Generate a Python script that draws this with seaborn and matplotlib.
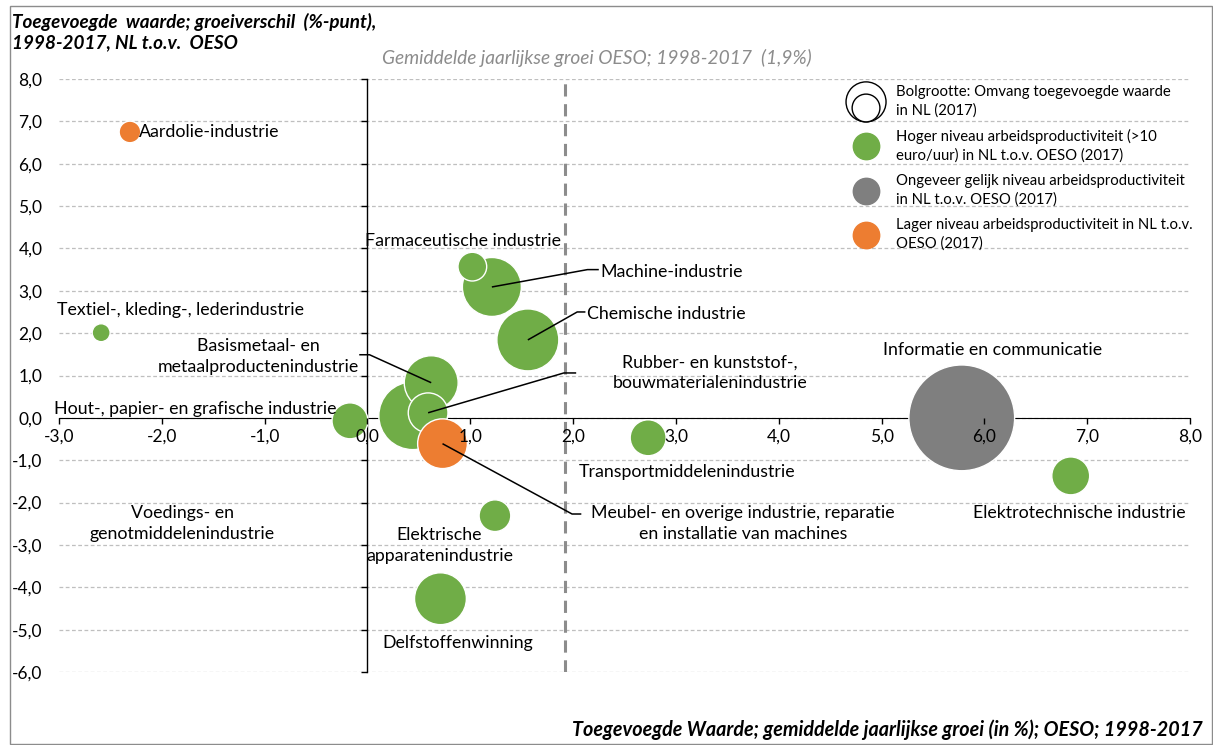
import matplotlib
matplotlib.use('Agg')
import matplotlib.pyplot as plt
import seaborn as sns
import pandas as pd
from matplotlib.lines import Line2D
from matplotlib.patches import Circle, Patch, Rectangle
from matplotlib.legend_handler import HandlerBase

# data
sectors = ['Aardolie-industrie', 'Textiel-, kleding-, lederindustrie',
           'Hout-, papier- en grafische industrie', 'Voedings- en genotmiddelenindustrie',
           'Basismetaal- en metaalproductenindustrie', 'Rubber- en kunststof-, bouwmaterialenindustrie',
           'Meubel- en overige industrie', 'Machine-industrie', 'Farmaceutische industrie',
           'Chemische industrie', 'Transportmiddelenindustrie', 'Informatie en communicatie',
           'Elektrotechnische industrie', 'Elektrische apparatenindustrie', 'Delfstoffenwinning']
groei_oeso = [-2.31, -2.59, -0.17, 0.44, 0.62, 0.59, 0.73, 1.21, 1.02, 1.56, 2.73, 5.78, 6.84, 1.24, 0.71]
groeiverschil = [6.75, 2.01, -0.07, 0.05, 0.83, 0.12, -0.61, 3.09, 3.57, 1.84, -0.47, 0.00, -1.37, -2.31, -4.27]
toegevoegde_waarde = [1.3, 0.9, 3.6, 12.8, 8.1, 4.4, 6.9, 9.7, 2.3, 10.7, 3.6, 31.2, 4.0, 2.8, 7.5]
niveau = ['Lager', 'Hoger', 'Hoger', 'Hoger', 'Hoger', 'Hoger', 'Lager', 'Hoger', 'Hoger',
          'Hoger', 'Hoger', 'Gelijk', 'Hoger', 'Hoger', 'Hoger']
gemiddelde_oeso = 1.92

x_ticks = [-3, -2, -1, 0, 1, 2, 3, 4, 5, 6, 7, 8]
y_ticks = [-6, -5, -4, -3, -2, -1, 0, 1, 2, 3, 4, 5, 6, 7, 8]

legend_labels = ['Bolgrootte: Omvang toegevoegde waarde\nin NL (2017)',
                 'Hoger niveau arbeidsproductiviteit (>10\neuro/uur) in NL t.o.v. OESO (2017)',
                 'Ongeveer gelijk niveau arbeidsproductiviteit\nin NL t.o.v. OESO (2017)',
                 'Lager niveau arbeidsproductiviteit in NL t.o.v.\nOESO (2017)']

df = pd.DataFrame({'x': groei_oeso, 'y': groeiverschil, 'tw': toegevoegde_waarde,
                   'niveau': niveau, 'sector': sectors})

colors = {'Hoger': '#70AD47', 'Gelijk': '#7F7F7F', 'Lager': '#ED7D31'}

# label layout (text, x, y, ha)
labels = [
    ('Aardolie-industrie', -2.22, 6.75, 'left'),
    ('Textiel-, kleding-, lederindustrie', -1.82, 2.55, 'center'),
    ('Hout-, papier- en grafische industrie', -1.67, 0.21, 'center'),
    ('Farmaceutische industrie', 0.93, 4.18, 'center'),
    ('Machine-industrie', 2.27, 3.45, 'left'),
    ('Chemische industrie', 2.14, 2.46, 'left'),
    ('Basismetaal- en\nmetaalproductenindustrie', -1.06, 1.45, 'center'),
    ('Rubber- en kunststof-,\nbouwmaterialenindustrie', 3.33, 1.07, 'center'),
    ('Informatie en communicatie', 6.08, 1.61, 'center'),
    ('Transportmiddelenindustrie', 3.11, -1.28, 'center'),
    ('Elektrotechnische industrie', 6.92, -2.24, 'center'),
    ('Meubel- en overige industrie, reparatie\nen installatie van machines', 3.65, -2.49, 'center'),
    ('Voedings- en\ngenotmiddelenindustrie', -1.80, -2.50, 'center'),
    ('Elektrische\napparatenindustrie', 0.70, -3.01, 'center'),
    ('Delfstoffenwinning', 0.88, -5.31, 'center'),
]
# leader lines: sector -> knee points towards the label
leaders = {
    'Machine-industrie': [(2.14, 3.50), (2.25, 3.50)],
    'Chemische industrie': [(2.04, 2.50), (2.12, 2.50)],
    'Rubber- en kunststof-, bouwmaterialenindustrie': [(1.91, 1.06), (2.03, 1.06)],
    'Basismetaal- en metaalproductenindustrie': [(0.02, 1.49), (-0.08, 1.49)],
    'Meubel- en overige industrie': [(1.99, -2.27), (2.08, -2.27)],
}

plt.rcParams['font.family'] = ['Lato', 'DejaVu Sans']

fig = plt.figure(figsize=(12.13, 7.45), dpi=100)
ax = fig.add_axes([59 / 1213, 1 - 672 / 745, (1190 - 59) / 1213, (672 - 79) / 745])

# horizontal gridlines
for yv in y_ticks:
    ax.axhline(yv, color='#BFBFBF', lw=0.9, ls=(0, (3, 2)), zorder=0)

ax.axvline(gemiddelde_oeso, color='#8C8C8C', lw=2.2, ls=(0, (4, 2.5)), zorder=0.5)

# leader lines
for name, pts in leaders.items():
    r = df[df['sector'] == name].iloc[0]
    xs = [r['x']] + [p[0] for p in pts]
    ys = [r['y']] + [p[1] for p in pts]
    ax.plot(xs, ys, color='black', lw=1.1, zorder=3, solid_capstyle='butt')

sns.scatterplot(data=df, x='x', y='y', hue='niveau', palette=colors, size='tw',
                sizes=(0, 5800), size_norm=(0, 31.2), edgecolor='white', linewidth=1,
                alpha=1, legend=False, ax=ax, zorder=2)

for text, lx, ly, ha in labels:
    ax.text(lx, ly, text, ha=ha, va='center', fontsize=12.8, linespacing=1.35,
            color='black', zorder=4)

ax.set_xlim(-3, 8)
ax.set_ylim(-6, 8)
ax.set_xlabel('')
ax.set_ylabel('')

ax.spines['top'].set_visible(False)
ax.spines['right'].set_visible(False)
ax.spines['left'].set_visible(False)
ax.spines['bottom'].set_position(('data', 0))
ax.spines['bottom'].set_zorder(1)
ax.set_axisbelow(False)

ax.set_xticks(x_ticks)
ax.set_xticklabels([f'{v:.1f}'.replace('.', ',') for v in x_ticks], fontsize=12.5)
ax.set_yticks(y_ticks)
ax.set_yticklabels([f'{v:.1f}'.replace('.', ',') for v in y_ticks], fontsize=12.5)
ax.tick_params(axis='x', direction='out', length=4, width=1, pad=4)
ax.tick_params(axis='y', length=0, pad=12)

# y axis line with ticks at x = 0
sec = ax.secondary_yaxis(3 / 11)
sec.set_yticks(y_ticks)
sec.set_yticklabels([])
sec.tick_params(direction='out', length=4, width=1)
sec.spines['left'].set_linewidth(1)
sec.spines['left'].set_zorder(1)


class NestedHandler(HandlerBase):
    def create_artists(self, legend, orig_handle, xdescent, ydescent, width, height, fontsize, trans):
        cx = 0.5 * width - xdescent
        cy = 0.5 * height - ydescent
        rb, rs = 14.4, 10.0
        big = Circle((cx, cy), rb, fc='white', ec='black', lw=1, transform=trans)
        small = Circle((cx, cy - rb + rs), rs, fc='white', ec='black', lw=1, transform=trans)
        return [big, small]


bubble_handle = Patch()
handles = [bubble_handle] + [Line2D([0], [0], marker='o', ls='none', markersize=19,
                                    markerfacecolor=colors[k], markeredgecolor=colors[k])
                             for k in ['Hoger', 'Gelijk', 'Lager']]
leg = ax.legend(handles, legend_labels, handler_map={bubble_handle: NestedHandler()},
                loc='upper left', bbox_to_anchor=(843 / 1213, 1 - 78 / 745),
                bbox_transform=fig.transFigure, frameon=False, fontsize=10.7,
                handlelength=2.1, handletextpad=0.95, labelspacing=0.78, borderpad=0)
for t in leg.get_texts():
    t.set_linespacing(1.35)

fig.text(12 / 1213, 1 - 13 / 745,
         'Toegevoegde  waarde; groeiverschil  (%-punt),\n1998-2017, NL t.o.v.  OESO',
         ha='left', va='top', fontsize=13.6, fontweight='bold', fontstyle='italic',
         linespacing=1.2)
fig.text(597 / 1213, 1 - 58 / 745, 'Gemiddelde jaarlijkse groei OESO; 1998-2017  (1,9%)',
         ha='center', va='center', fontsize=13.8, fontstyle='italic', color='#8C8C8C')
fig.text(1203 / 1213, 1 - 730 / 745,
         'Toegevoegde Waarde; gemiddelde jaarlijkse groei (in %); OESO; 1998-2017',
         ha='right', va='center', fontsize=14.2, fontweight='bold', fontstyle='italic')

fig.add_artist(Rectangle((10 / 1213, 1 / 745), 1 - 11 / 1213, 1 - 7 / 745,
                         transform=fig.transFigure, fill=False, ec='#8C8C8C', lw=1))

fig.savefig('out.png', dpi=100)
